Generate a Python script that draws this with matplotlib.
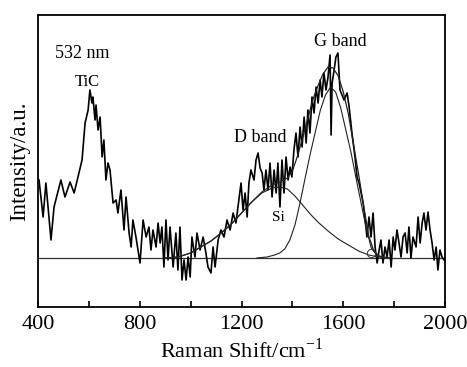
import matplotlib.pyplot as plt
from matplotlib.ticker import MultipleLocator

# Raman spectrum (shift in cm-1, intensity above baseline in a.u.)
shift = [404, 420, 431, 451, 463, 490, 506, 526, 542, 557, 573, 585, 597, 604,
         612, 616, 624, 628, 636, 644, 652, 659, 667, 675, 683, 695, 707, 714,
         726, 738, 746, 758, 766, 773, 785, 793, 801, 813, 825, 836, 844, 852,
         864, 872, 880, 887, 895, 903, 911, 919, 931, 942, 950, 958, 966, 974,
         982, 990, 998, 1005, 1017, 1025, 1037, 1049, 1060, 1068, 1080, 1088,
         1096, 1108, 1119, 1131, 1143, 1155, 1167, 1178, 1186, 1198, 1206, 1214,
         1222, 1229, 1237, 1249, 1257, 1265, 1273, 1281, 1288, 1296, 1304, 1312,
         1320, 1328, 1336, 1343, 1351, 1359, 1367, 1375, 1383, 1391, 1398, 1406,
         1414, 1422, 1430, 1438, 1446, 1454, 1461, 1469, 1477, 1485, 1493, 1501,
         1509, 1516, 1524, 1532, 1540, 1548, 1552, 1556, 1564, 1571, 1579, 1587,
         1603, 1615, 1623, 1634, 1646, 1654, 1662, 1670, 1678, 1686, 1693, 1701,
         1709, 1717, 1725, 1733, 1741, 1748, 1756, 1764, 1772, 1780, 1788, 1796,
         1803, 1811, 1819, 1827, 1835, 1843, 1851, 1858, 1866, 1874, 1886, 1894,
         1902, 1910, 1917, 1925, 1933, 1941, 1949, 1957, 1965, 1972, 1980, 1988,
         1996]
intensity = [78, 41, 75, 18, 51, 78, 61, 76, 65, 81, 98, 135, 148, 168,
             155, 161, 138, 153, 128, 141, 101, 118, 78, 95, 88, 55, 58, 45,
             68, 28, 61, 25, 11, 38, 21, 8, -5, 38, 21, 31, 8, 28,
             11, 35, 15, 31, -9, 38, -2, 31, -9, 25, -12, 31, -22, -2,
             -22, 1, -19, 21, 1, 25, 8, 21, 5, -9, -15, 11,
             -9, 18, 28, 21, 38, 28, 45, 35, 51, 75, 48, 65,
             41, 75, 88, 78, 98, 105, 90, 85, 68, 88, 68, 95,
             61, 88, 65, 95, 51, 98, 65, 101, 78, 91, 81, 108,
             125, 101, 131, 111, 141, 115, 148, 125, 161, 145, 171, 155,
             178, 161, 185, 168, 181, 203, 123, 175, 188, 201, 205, 168,
             158, 165, 151, 125, 101, 81, 75, 65, 55, 38, 21, 41,
             21, 45, 11, -5, 8, 18, -5, 11, 1, 18, -9, 21,
             8, 28, 15, 1, 21, 25, 5, 31, 0, 21, 11, 41,
             15, 35, 45, 28, 46, 28, 15, -2, 11, -12, 8, 1,
             -2]

# Fitted D band (Si) component
d_shift = [900, 950, 1000, 1040, 1080, 1120, 1160, 1200, 1240, 1280, 1320, 1350,
           1380, 1410, 1440, 1470, 1500, 1540, 1580, 1620, 1660, 1700, 1740, 1780]
d_fit = [0, 1, 5, 11, 17, 25, 34, 45, 56, 65, 70, 71,
         69, 62, 53, 44, 36, 27, 19, 13, 7, 3, 1, 0]

# Fitted G band component
g_shift = [1260, 1300, 1330, 1350, 1370, 1390, 1410, 1430, 1450, 1470, 1490, 1510,
           1530, 1550, 1570, 1590, 1610, 1630, 1650, 1670, 1690, 1710, 1730, 1760]
g_fit = [0, 1, 3, 5, 9, 18, 33, 55, 80, 104, 126, 148,
         163, 171, 166, 150, 128, 106, 80, 55, 30, 10, 3, 0]

# Envelope of the fit
s_shift = [900, 950, 1000, 1040, 1080, 1120, 1160, 1200, 1240, 1280, 1320, 1350,
           1380, 1400, 1420, 1440, 1460, 1480, 1500, 1520, 1540, 1560, 1580, 1600,
           1620, 1640, 1660, 1680, 1700, 1720, 1740, 1780]
s_fit = [0, 1, 5, 11, 17, 25, 34, 45, 56, 66, 73, 76,
         80, 87, 102, 120, 139, 158, 172, 184, 191, 190, 182, 166,
         144, 114, 84, 52, 22, 7, 2, 0]

plt.rcParams['font.family'] = ['Liberation Serif', 'DejaVu Serif']

fig = plt.figure(figsize=(4.67, 3.67), dpi=100)
ax = fig.add_axes([0.0814, 0.1635, 0.8716, 0.7956])

ax.axhline(0, color='#333333', lw=0.9)
ax.plot(shift, intensity, color='black', lw=1.2)
ax.plot(d_shift, d_fit, color='#222222', lw=0.8)
ax.plot(g_shift, g_fit, color='#222222', lw=0.8)
ax.plot(s_shift, s_fit, color='#222222', lw=0.9)
ax.plot([1709], [5], marker='o', ms=6, mfc='none', mec='#333333', mew=0.7)

ax.text(573, 205, '532 nm', ha='center', va='center', fontsize=13)
ax.text(593, 176, 'TiC', ha='center', va='center', fontsize=12)
ax.text(1273, 121, 'D band', ha='center', va='center', fontsize=13)
ax.text(1587, 217, 'G band', ha='center', va='center', fontsize=13)
ax.text(1343, 41, 'Si', ha='center', va='center', fontsize=11)

ax.set_xlim(400, 2000)
ax.set_ylim(-49, 243)
ax.xaxis.set_major_locator(MultipleLocator(400))
ax.xaxis.set_minor_locator(MultipleLocator(200))
ax.tick_params(axis='x', which='both', direction='in', length=4, width=1.2,
               labelsize=16, pad=6, top=False)
ax.set_yticks([])
for sp in ax.spines.values():
    sp.set_linewidth(1.3)

ax.set_xlabel('Raman Shift/cm$^{\\mathregular{-1}}$', fontsize=16, labelpad=3)
ax.set_ylabel('Intensity/a.u.', fontsize=16.5, labelpad=6)

fig.savefig('out.png', dpi=100)
